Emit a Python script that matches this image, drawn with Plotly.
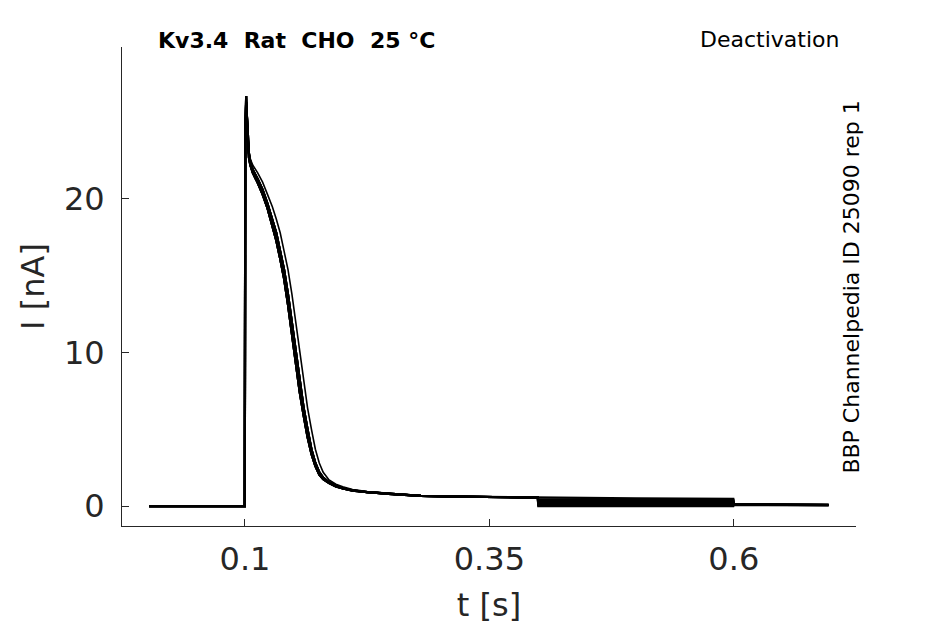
import plotly.graph_objects as go

# tiempo comun de la parte de activacion (s)
t_act = [0.002, 0.0998, 0.1003, 0.1012, 0.1025, 0.104, 0.1055, 0.108, 0.113, 0.118,
         0.123, 0.128, 0.132, 0.136, 0.140, 0.144, 0.148, 0.152, 0.156, 0.160,
         0.164, 0.168, 0.172, 0.176, 0.180, 0.186, 0.193, 0.200, 0.210, 0.225,
         0.25, 0.28, 0.32, 0.36, 0.3995]

# corriente (nA) de las tres formas de activacion
i_act_rapida = [0, 0, 24.0, 26.7, 24.4, 22.7, 22.2, 21.7, 21.05, 20.3,
                19.4, 18.3, 17.3, 16.1, 14.8, 13.1, 11.2, 9.2, 7.4, 5.9,
                4.5, 3.4, 2.6, 2.05, 1.75, 1.5, 1.28, 1.14, 1.01, 0.9,
                0.77, 0.66, 0.61, 0.58, 0.55]
i_act_media = [0, 0, 24.0, 26.3, 24.8, 23.0, 22.4, 21.9, 21.3, 20.6,
               19.7, 18.7, 17.8, 16.6, 15.4, 13.8, 11.9, 9.9, 8.0, 6.4,
               5.0, 3.7, 2.8, 2.2, 1.85, 1.55, 1.32, 1.17, 1.03, 0.91,
               0.78, 0.66, 0.61, 0.58, 0.55]
i_act_lenta = [0, 0, 23.5, 25.8, 24.5, 23.0, 22.6, 22.2, 21.7, 21.1,
               20.3, 19.5, 18.7, 17.8, 16.6, 15.4, 13.8, 11.9, 9.9, 8.0,
               6.4, 5.0, 3.7, 2.8, 2.2, 1.7, 1.42, 1.25, 1.08, 0.94,
               0.8, 0.67, 0.61, 0.58, 0.55]

# parte de desactivacion (0.4 - 0.7 s)
t_cola = [0.4, 0.5, 0.5995, 0.6, 0.65, 0.697]
i_cola = [
    [0.54, 0.50, 0.47, 0.12, 0.10, 0.08],
    [0.46, 0.43, 0.41, 0.12, 0.10, 0.08],
    [0.39, 0.37, 0.35, 0.11, 0.09, 0.07],
    [0.32, 0.30, 0.29, 0.11, 0.09, 0.07],
    [0.25, 0.24, 0.23, 0.10, 0.09, 0.07],
    [0.18, 0.17, 0.17, 0.10, 0.08, 0.06],
    [0.11, 0.11, 0.11, 0.10, 0.08, 0.06],
    [0.05, 0.05, 0.05, 0.09, 0.08, 0.06],
    [-0.01, 0.0, 0.0, 0.09, 0.07, 0.06],
]
forma_traza = ["rapida", "media", "rapida", "media", "lenta", "rapida", "media", "rapida", "media"]

x_ticks = [0.1, 0.35, 0.6]
x_tick_labels = ["0.1", "0.35", "0.6"]
y_ticks = [0, 10, 20]
y_tick_labels = ["0", "10", "20"]

formas = {"rapida": i_act_rapida, "media": i_act_media, "lenta": i_act_lenta}
gris = "#262626"
fuente = "DejaVu Sans"

fig = go.Figure()
for k, cola in enumerate(i_cola):
    forma = forma_traza[k]
    fig.add_trace(go.Scatter(
        x=t_act + t_cola,
        y=formas[forma] + cola,
        mode="lines",
        line=dict(color="black", width=1.6 if forma == "lenta" else 2.2),
        showlegend=False,
        hoverinfo="skip",
    ))

fig.update_layout(
    width=945, height=624,
    margin=dict(l=122, r=89, t=47, b=98),
    plot_bgcolor="white", paper_bgcolor="white",
    font=dict(family=fuente, color=gris),
    xaxis=dict(
        range=[-0.0258, 0.725], tickvals=x_ticks, ticktext=x_tick_labels,
        ticks="inside", ticklen=7, tickcolor=gris, tickwidth=1,
        showline=True, linecolor=gris, linewidth=1, mirror=False,
        showgrid=False, zeroline=False, automargin=False,
        tickfont=dict(size=32, color=gris), ticklabelstandoff=5,
        title=dict(text="t [s]", font=dict(size=32, color=gris), standoff=19),
    ),
    yaxis=dict(
        range=[-1.3, 29.9], tickvals=y_ticks, ticktext=y_tick_labels,
        ticks="inside", ticklen=7, tickcolor=gris, tickwidth=1,
        showline=True, linecolor=gris, linewidth=1, mirror=False,
        showgrid=False, zeroline=False, automargin=False,
        tickfont=dict(size=32, color=gris), ticklabelstandoff=10,
        title=dict(text="I [nA]", font=dict(size=32, color=gris), standoff=9),
    ),
)

fig.add_annotation(
    text="<b>Kv3.4\u00a0\u00a0Rat\u00a0\u00a0CHO\u00a0\u00a025 °C</b>",
    xref="paper", yref="paper", x=0.238, y=1.0146,
    xanchor="center", yanchor="middle", showarrow=False,
    font=dict(size=22, color="black", family=fuente),
)
fig.add_annotation(
    text="Deactivation",
    xref="paper", yref="paper", x=0.98, y=1.0167,
    xanchor="right", yanchor="middle", showarrow=False,
    font=dict(size=22, color="black", family=fuente),
)
fig.add_annotation(
    text="BBP Channelpedia ID 25090 rep 1",
    xref="paper", yref="paper", x=0.994, y=0.499,
    xanchor="center", yanchor="middle", textangle=-90, showarrow=False,
    font=dict(size=22, color="black", family=fuente),
)

# sin margen del body para que la figura empiece en la esquina
fig.write_html("out.html", config={"displayModeBar": False},
               post_script="document.body.style.margin='0';")
